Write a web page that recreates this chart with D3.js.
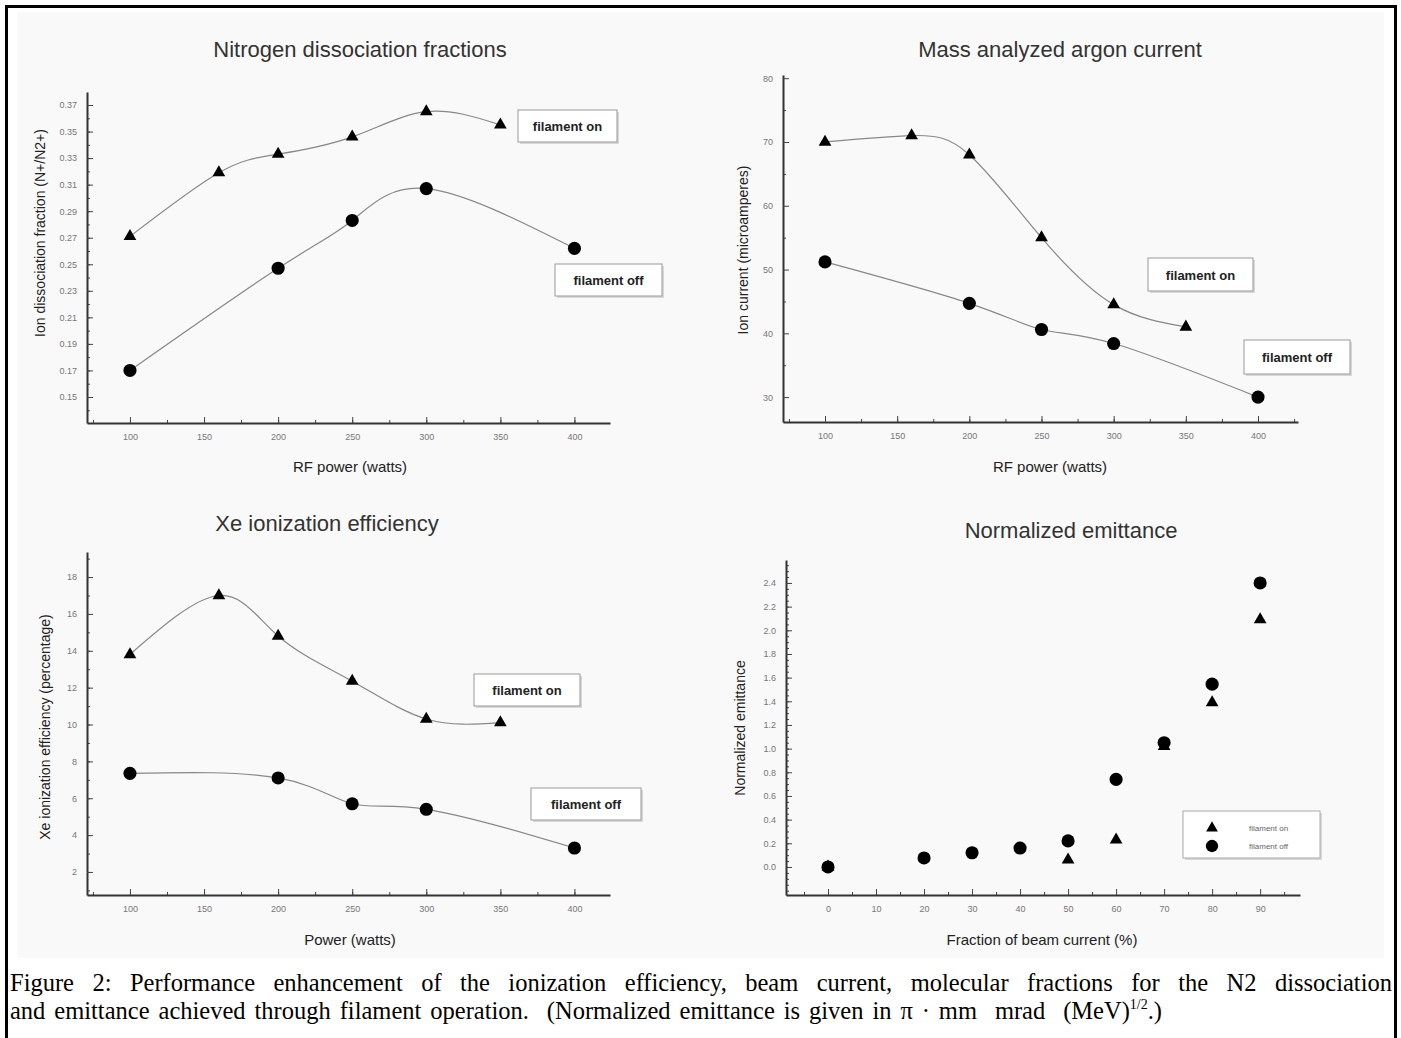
<!DOCTYPE html>
<html>
<head>
<meta charset="utf-8">
<script src="https://cdn.jsdelivr.net/npm/d3@7"></script>
<style>
  body { margin: 0; background: #fff; }
  text { font-family: "Liberation Sans", Arial, sans-serif; }
  .tick text { fill: #777; font-size: 9px; }
  .caption { font-family: "Liberation Serif", "Times New Roman", serif; font-size: 24.5px; fill: #000; }
</style>
</head>
<body>
<svg id="svg" width="1401" height="1038"></svg>
<script>
// tick labels
const powerTicks = [100, 150, 200, 250, 300, 350, 400];
const n2Ticks = [0.15, 0.17, 0.19, 0.21, 0.23, 0.25, 0.27, 0.29, 0.31, 0.33, 0.35, 0.37];
const arTicks = [30, 40, 50, 60, 70, 80];
const xeTicks = [2, 4, 6, 8, 10, 12, 14, 16, 18];
const fracTicks = [0, 10, 20, 30, 40, 50, 60, 70, 80, 90];
const emTicks = [0, 0.2, 0.4, 0.6, 0.8, 1.0, 1.2, 1.4, 1.6, 1.8, 2.0, 2.2, 2.4];

// nitrogen dissociation
const n2OnX = [100, 160, 200, 250, 300, 350];
const n2OnY = [0.271, 0.319, 0.333, 0.346, 0.365, 0.355];
const n2OffX = [100, 200, 250, 300, 400];
const n2OffY = [0.170, 0.247, 0.283, 0.307, 0.262];

// argon current
const arOnX = [100, 160, 200, 250, 300, 350];
const arOnY = [70, 71, 68, 55, 44.5, 41];
const arOffX = [100, 200, 250, 300, 400];
const arOffY = [51.2, 44.7, 40.6, 38.4, 30];

// Xe efficiency
const xeOnX = [100, 160, 200, 250, 300, 350];
const xeOnY = [13.8, 17.0, 14.8, 12.35, 10.3, 10.1];
const xeOffX = [100, 200, 250, 300, 400];
const xeOffY = [7.35, 7.1, 5.7, 5.4, 3.3];

// emittance
const emOnX = [0, 50, 60, 70, 80, 90];
const emOnY = [0, 0.06, 0.23, 1.02, 1.39, 2.09];
const emOffX = [0, 20, 30, 40, 50, 60, 70, 80, 90];
const emOffY = [0, 0.076, 0.12, 0.16, 0.22, 0.74, 1.05, 1.545, 2.4];

const svg = d3.select('#svg');

// image area + frame
svg.append('rect').attr('x', 17).attr('y', 12).attr('width', 1367).attr('height', 946).attr('fill', '#f9f9f9');
svg.append('path').attr('d', 'M6.5,1038V6.5H1395.5V1038').attr('fill', 'none').attr('stroke', '#000').attr('stroke-width', 3);

const zip = (xs, ys) => xs.map((x, i) => ({x: x, y: ys[i]}));

function drawPanel(p) {
    const x = d3.scaleLinear().domain(p.xDomain).range(p.xRange);
    const y = d3.scaleLinear().domain(p.yDomain).range(p.yRange);
    const g = svg.append('g');

    // minor ticks
    g.append('g').attr('transform', 'translate(0,' + p.yRange[0] + ')')
        .call(d3.axisBottom(x).tickValues(p.xMinor).tickSize(-3).tickSizeOuter(0).tickFormat(''))
        .call(a => a.select('.domain').remove());
    g.append('g').attr('transform', 'translate(' + p.xRange[0] + ',0)')
        .call(d3.axisLeft(y).tickValues(p.yMinor).tickSize(-3).tickSizeOuter(0).tickFormat(''))
        .call(a => a.select('.domain').remove());

    // major axes
    g.append('g').attr('transform', 'translate(0,' + p.yRange[0] + ')')
        .call(d3.axisBottom(x).tickValues(p.xTicks).tickSize(-6).tickSizeOuter(0).tickPadding(11).tickFormat(p.xFmt));
    g.append('g').attr('transform', 'translate(' + p.xRange[0] + ',0)')
        .call(d3.axisLeft(y).tickValues(p.yTicks).tickSize(-6).tickSizeOuter(0).tickPadding(10).tickFormat(p.yFmt));
    g.selectAll('.domain').attr('stroke', '#333').attr('stroke-width', 2);
    g.selectAll('.tick line').attr('stroke', '#444');

    // titles
    g.append('text').attr('x', p.title[1]).attr('y', p.title[2]).attr('text-anchor', 'middle')
        .attr('font-size', 22).attr('fill', '#333').text(p.title[0]);
    g.append('text').attr('x', p.xLabel[1]).attr('y', p.xLabel[2]).attr('text-anchor', 'middle')
        .attr('font-size', 15).attr('fill', '#222').text(p.xLabel[0]);
    g.append('text').attr('transform', 'translate(' + p.yLabel[1] + ',' + p.yLabel[2] + ') rotate(-90)')
        .attr('text-anchor', 'middle').attr('font-size', 14).attr('fill', '#222').text(p.yLabel[0]);

    const line = d3.line().x(d => x(d.x)).y(d => y(d.y)).curve(d3.curveNatural);
    p.series.forEach(s => {
        const pts = zip(s.xs, s.ys);
        if (p.lines) {
            g.append('path').attr('d', line(pts)).attr('fill', 'none')
                .attr('stroke', '#888').attr('stroke-width', 1.2);
        }
        g.selectAll(null).data(pts).enter().append('path')
            .attr('transform', d => 'translate(' + x(d.x) + ',' + y(d.y) + ')')
            .attr('d', d3.symbol(s.shape === 'tri' ? d3.symbolTriangle : d3.symbolCircle, s.shape === 'tri' ? 70 : 135))
            .attr('fill', '#000');
    });

    // legend boxes
    (p.boxes || []).forEach(b => {
        g.append('rect').attr('x', b.x + 2).attr('y', b.y + 2).attr('width', b.w).attr('height', b.h).attr('fill', '#d8d8d8');
        g.append('rect').attr('x', b.x).attr('y', b.y).attr('width', b.w).attr('height', b.h)
            .attr('fill', '#fff').attr('stroke', '#999');
        g.append('text').attr('x', b.x + b.w / 2).attr('y', b.y + b.h / 2 + 5).attr('text-anchor', 'middle')
            .attr('font-size', 13).attr('font-weight', 'bold').attr('fill', '#222').text(b.text);
    });
}

drawPanel({
    xDomain: [71, 424], xRange: [87, 610], yDomain: [0.1304, 0.3798], yRange: [423, 92],
    xTicks: powerTicks, xMinor: d3.range(75, 425, 25), xFmt: d3.format('d'),
    yTicks: n2Ticks, yMinor: d3.range(0.14, 0.38, 0.01), yFmt: d3.format('.2f'),
    title: ['Nitrogen dissociation fractions', 360, 57],
    xLabel: ['RF power (watts)', 350, 472],
    yLabel: ['Ion dissociation fraction (N+/N2+)', 45, 233],
    lines: true,
    series: [{xs: n2OnX, ys: n2OnY, shape: 'tri'}, {xs: n2OffX, ys: n2OffY, shape: 'circ'}],
    boxes: [{x: 518, y: 110, w: 99, h: 32, text: 'filament on'}, {x: 555, y: 264, w: 107, h: 32, text: 'filament off'}]
});

drawPanel({
    xDomain: [70.9, 427.7], xRange: [783, 1298], yDomain: [26.1, 80.5], yRange: [422, 75],
    xTicks: powerTicks, xMinor: d3.range(75, 430, 25), xFmt: d3.format('d'),
    yTicks: arTicks, yMinor: d3.range(35, 80, 10), yFmt: d3.format('d'),
    title: ['Mass analyzed argon current', 1060, 57],
    xLabel: ['RF power (watts)', 1050, 472],
    yLabel: ['Ion current (microamperes)', 748, 250],
    lines: true,
    series: [{xs: arOnX, ys: arOnY, shape: 'tri'}, {xs: arOffX, ys: arOffY, shape: 'circ'}],
    boxes: [{x: 1148, y: 258, w: 105, h: 33, text: 'filament on'}, {x: 1244, y: 340, w: 106, h: 34, text: 'filament off'}]
});

drawPanel({
    xDomain: [71, 424], xRange: [87, 610], yDomain: [0.75, 19.36], yRange: [895, 552],
    xTicks: powerTicks, xMinor: d3.range(75, 425, 25), xFmt: d3.format('d'),
    yTicks: xeTicks, yMinor: d3.range(1, 20, 1), yFmt: d3.format('d'),
    title: ['Xe ionization efficiency', 327, 531],
    xLabel: ['Power (watts)', 350, 945],
    yLabel: ['Xe ionization efficiency (percentage)', 50, 727],
    lines: true,
    series: [{xs: xeOnX, ys: xeOnY, shape: 'tri'}, {xs: xeOffX, ys: xeOffY, shape: 'circ'}],
    boxes: [{x: 474, y: 674, w: 106, h: 32, text: 'filament on'}, {x: 531, y: 788, w: 110, h: 32, text: 'filament off'}]
});

drawPanel({
    xDomain: [-8.75, 98.3], xRange: [786, 1300], yDomain: [-0.237, 2.594], yRange: [895, 560],
    xTicks: fracTicks, xMinor: d3.range(-5, 100, 10), xFmt: d3.format('d'),
    yTicks: emTicks, yMinor: d3.range(-0.2, 2.6, 0.05), yFmt: d3.format('.1f'),
    title: ['Normalized emittance', 1071, 538],
    xLabel: ['Fraction of beam current (%)', 1042, 945],
    yLabel: ['Normalized emittance', 745, 728],
    lines: false,
    series: [{xs: emOnX, ys: emOnY, shape: 'tri'}, {xs: emOffX, ys: emOffY, shape: 'circ'}]
});

// emittance legend
const leg = svg.append('g').attr('transform', 'translate(1183,811)');
leg.append('rect').attr('x', 2).attr('y', 2).attr('width', 137).attr('height', 47).attr('fill', '#d8d8d8');
leg.append('rect').attr('width', 137).attr('height', 47).attr('fill', '#fff').attr('stroke', '#aaa');
leg.append('path').attr('transform', 'translate(29,17)').attr('d', d3.symbol(d3.symbolTriangle, 60)).attr('fill', '#000');
leg.append('path').attr('transform', 'translate(29,35)').attr('d', d3.symbol(d3.symbolCircle, 120)).attr('fill', '#000');
leg.append('text').attr('x', 66).attr('y', 20).attr('font-size', 8).attr('fill', '#666').text('filament on');
leg.append('text').attr('x', 66).attr('y', 38).attr('font-size', 8).attr('fill', '#666').text('filament off');

// caption, both lines spread to their widths in the reference
function justify(t, width, spaces) {
    const len = t.node().getComputedTextLength();
    t.attr('word-spacing', Math.max(0, (width - len) / spaces));
}
const cap1 = svg.append('text').attr('class', 'caption').attr('x', 10).attr('y', 990.5)
    .text('Figure 2: Performance enhancement of the ionization efficiency, beam current, molecular fractions for the N2 dissociation');
justify(cap1, 1382, cap1.text().split(' ').length - 1);

const cap2Text = 'and emittance achieved through filament operation.  (Normalized emittance is given in \u03c0 \u00b7 mm  mrad  (MeV)';
const cap2 = svg.append('text').attr('class', 'caption').attr('x', 10).attr('y', 1019).attr('xml:space', 'preserve');
cap2.append('tspan').text(cap2Text);
cap2.append('tspan').attr('font-size', 14).attr('dy', -10).text('1/2');
cap2.append('tspan').attr('dy', 10).text('.)');
justify(cap2, 1152, cap2Text.split(' ').length - 1);
</script>
</body>
</html>
